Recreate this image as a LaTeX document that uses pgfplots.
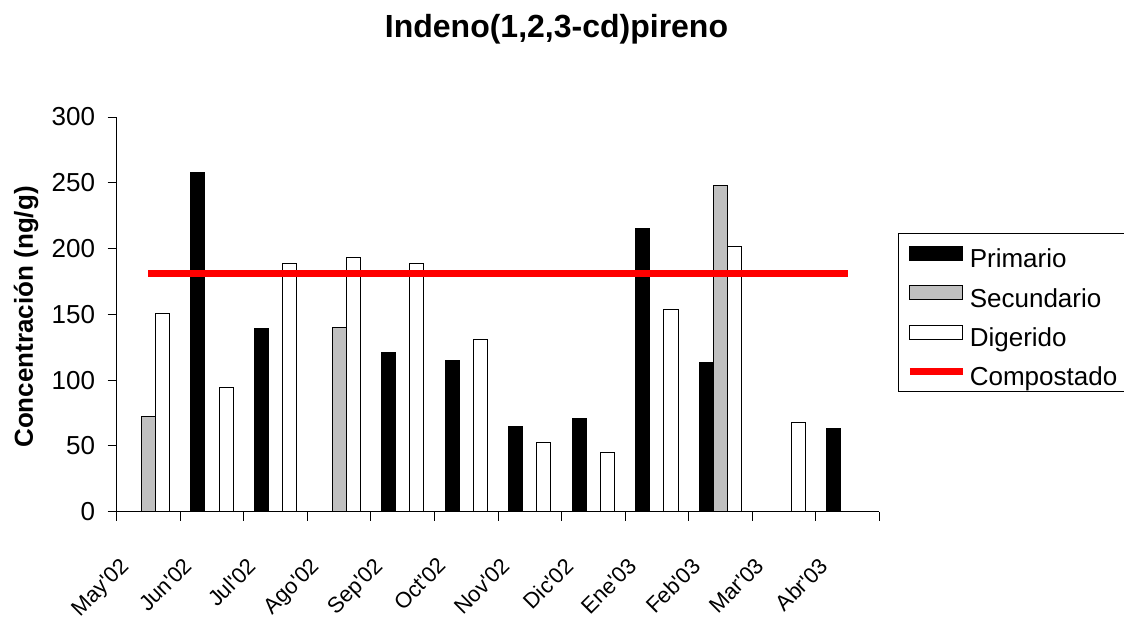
\documentclass[border=0pt]{standalone}
\usepackage{fontspec}
\setmainfont{Liberation Sans}
\usepackage{pgfplots}
\pgfplotsset{compat=1.18}
\definecolor{secgray}{RGB}{192,192,192}
\definecolor{compred}{RGB}{255,0,0}
\newcommand{\ls}{\rule[-4pt]{0pt}{34pt}}
\newcommand{\q}{\textquotesingle}
\pgfplotsset{
  barleg/.style={legend image code/.code={\draw[##1] (0pt,-7pt) rectangle (53pt,7pt);}},
  lineleg/.style={legend image code/.code={\draw[##1] (0pt,0pt) -- (53pt,0pt);}},
}
\begin{document}
\begin{tikzpicture}
\useasboundingbox (0,0) rectangle (1124pt,-617pt);
\begin{axis}[
  at={(116.7pt,-511.7pt)}, anchor=south west,
  scale only axis, width=762.6pt, height=394.7pt,
  xmin=-0.5, xmax=11.5, ymin=0, ymax=300,
  axis x line*=bottom, axis y line*=left,
  axis line style={line width=1pt, -},
  xtick={0,...,11},
  xticklabels={May\q02, Jun\q02, Jul\q02, Ago\q02, Sep\q02, Oct\q02, Nov\q02, Dic\q02, Ene\q03, Feb\q03, Mar\q03, Abr\q03},
  minor xtick={-0.5,0.5,...,11.5},
  ytick={0,50,...,300},
  tick align=outside,
  major tick length=9pt, minor tick length=9pt,
  tick style={line width=1pt, black},
  major x tick style={draw=none},
  /pgf/number format/assume math mode=true,
  yticklabel style={font=\fontsize{26}{31}\selectfont, anchor=east, inner sep=0pt, xshift=-12.5pt},
  xticklabel style={font=\fontsize{22}{26}\selectfont, inner sep=0pt, xshift=-29.5pt, yshift=-35.5pt, rotate=45, anchor=north east},
  ylabel={Concentración (ng/g)},
  ylabel style={at={(axis description cs:-0.1098,0.4933)}, anchor=base, rotate=0, font=\fontsize{26}{31}\selectfont\bfseries, inner sep=0pt},
  title={Indeno(1,2,3-cd)pireno},
  title style={at={(axis description cs:0.5767,1.1867)}, anchor=base, font=\fontsize{32}{38}\selectfont\bfseries, inner sep=0pt},
  legend style={at={(axis description cs:1.02426,0.7066)}, anchor=north west,
    draw=black, line width=1pt, font=\fontsize{26}{31}\selectfont,
    inner xsep=8pt, inner ysep=4.5pt, row sep=7.8pt,
    nodes={inner sep=0pt},
    /tikz/every odd column/.append style={column sep=3.5pt}},
  legend cell align=left,
]
\addplot[ybar, bar width=0.222, bar shift=-0.222, fill=black, draw=black, line width=1pt, barleg]
  coordinates {(1,257.5) (2,139) (4,121) (5,115) (6,65) (7,71) (8,215) (9,113.5) (11,63.4)};
\addlegendentry{\ls Primario}
\addplot[ybar, bar width=0.222, bar shift=0, fill=secgray, draw=black, line width=1pt, barleg]
  coordinates {(0,72) (3,140.2) (9,248.2)};
\addlegendentry{\ls Secundario}
\addplot[ybar, bar width=0.222, bar shift=0.222, fill=white, draw=black, line width=1pt, barleg]
  coordinates {(0,151) (1,94.7) (2,188.7) (3,193.3) (4,188.7) (5,131.2) (6,52.6) (7,45) (8,153.9) (9,201.2) (10,67.5)};
\addlegendentry{\ls Digerido}
\addplot[compred, line width=7pt, no marks, line cap=butt, lineleg]
  coordinates {(0,181.4) (1,181.4) (2,181.4) (3,181.4) (4,181.4) (5,181.4) (6,181.4) (7,181.4) (8,181.4) (9,181.4) (10,181.4) (11,181.4)};
\addlegendentry{\ls Compostado}
\end{axis}
\end{tikzpicture}
\end{document}
